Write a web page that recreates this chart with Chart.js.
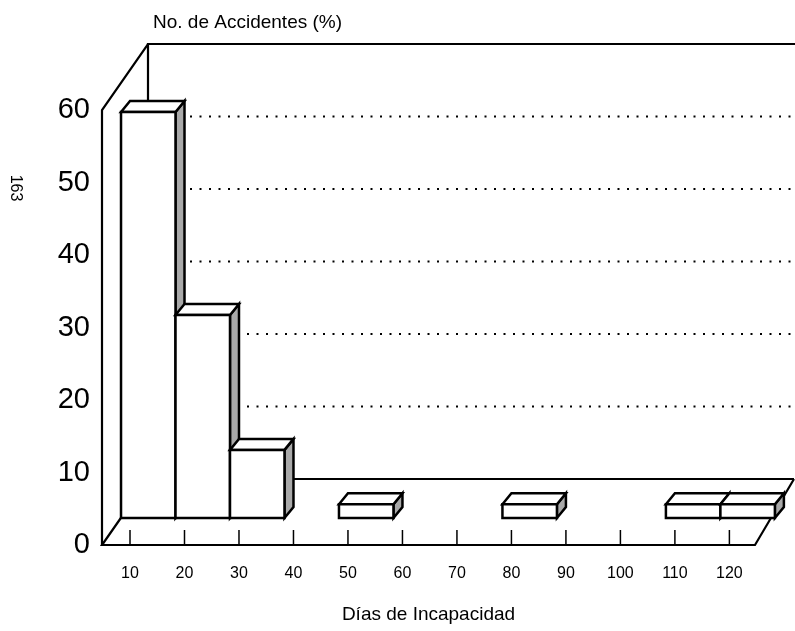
<!DOCTYPE html>
<html>
<head>
<meta charset="utf-8">
<script src="https://cdn.jsdelivr.net/npm/chart.js@4.4.1/dist/chart.umd.min.js"></script>
<style>
  html, body { margin: 0; padding: 0; background: #fff; }
  #wrap { width: 795px; height: 631px; }
</style>
</head>
<body>
<div id="wrap"><canvas id="myChart" width="795" height="631"></canvas></div>
<script>
// bins of days of incapacity (start / end) and % of accidents
const binStart = [10, 20, 30, 40, 50, 60, 70, 80, 90, 100, 110, 120];
const binEnd = [20, 30, 40, 50, 60, 70, 80, 90, 100, 110, 120, 130];
const pct = [56, 28, 9.4, null, 1.9, null, null, 1.9, null, null, 1.9, 1.9];
const xTicks = [10, 20, 30, 40, 50, 60, 70, 80, 90, 100, 110, 120];
const yTicks = [0, 10, 20, 30, 40, 50, 60];
const gridVals = [10, 20, 30, 40, 50];

const fam = "'Liberation Sans', Arial, sans-serif";

const wall = { dx: 46, dy: -66, rdx: 39 };   // depth of the box
const cube = { dx: 9, dy: -11 };              // depth of each bar

function poly(ctx, pts, fill) {
    ctx.beginPath();
    ctx.moveTo(pts[0][0], pts[0][1]);
    for (let i = 1; i < pts.length; i++) ctx.lineTo(pts[i][0], pts[i][1]);
    ctx.closePath();
    ctx.fillStyle = fill;
    ctx.fill();
    ctx.stroke();
}

const box3d = {
    id: 'box3d',
    beforeDatasetsDraw(chart) {
        const { ctx, chartArea: a, scales: { x, yf } } = chart;
        const top = yf.getPixelForValue(60);
        const bl = a.left + wall.dx;
        ctx.save();
        ctx.strokeStyle = '#000';

        // back wall gridlines (dotted)
        ctx.setLineDash([2, 7.5]);
        ctx.lineWidth = 2;
        gridVals.forEach(v => {
            const py = yf.getPixelForValue(v) + wall.dy;
            ctx.beginPath();
            ctx.moveTo(bl + 4, py);
            ctx.lineTo(chart.width, py);
            ctx.stroke();
        });
        ctx.setLineDash([]);

        ctx.lineWidth = 2.2;
        // back wall edges
        ctx.beginPath();
        ctx.moveTo(bl, a.bottom + wall.dy);
        ctx.lineTo(bl, top + wall.dy);
        ctx.lineTo(chart.width, top + wall.dy);
        ctx.stroke();

        // floor back edge
        ctx.beginPath();
        ctx.moveTo(bl, a.bottom + wall.dy);
        ctx.lineTo(a.right + wall.rdx, a.bottom + wall.dy);
        ctx.stroke();

        // left wall
        ctx.beginPath();
        ctx.moveTo(a.left, a.bottom);
        ctx.lineTo(a.left, top);
        ctx.lineTo(bl, top + wall.dy);
        ctx.stroke();

        // floor
        ctx.beginPath();
        ctx.moveTo(bl, a.bottom + wall.dy);
        ctx.lineTo(a.left, a.bottom);
        ctx.lineTo(a.right, a.bottom);
        ctx.lineTo(a.right + wall.rdx, a.bottom + wall.dy);
        ctx.stroke();

        // tick marks on the floor
        ctx.lineWidth = 1.5;
        xTicks.forEach(v => {
            const px = x.getPixelForValue(v);
            ctx.beginPath();
            ctx.moveTo(px, a.bottom - 15);
            ctx.lineTo(px, a.bottom);
            ctx.stroke();
        });
        ctx.restore();
    },
    afterDatasetsDraw(chart) {
        const ctx = chart.ctx;
        const meta = chart.getDatasetMeta(0);
        ctx.save();
        ctx.strokeStyle = '#000';
        ctx.lineWidth = 2.5;
        ctx.lineJoin = 'miter';
        meta.data.forEach((bar, i) => {
            if (pct[i] == null) return;
            const { x, y, base, width } = bar.getProps(['x', 'y', 'base', 'width'], true);
            const l = x - width / 2, r = x + width / 2;
            poly(ctx, [[r, base], [r + cube.dx, base + cube.dy], [r + cube.dx, y + cube.dy], [r, y]], '#a9a9a9');
            poly(ctx, [[l, y], [l + cube.dx, y + cube.dy], [r + cube.dx, y + cube.dy], [r, y]], '#fff');
            poly(ctx, [[l, base], [l, y], [r, y], [r, base]], '#fff');
        });
        ctx.restore();
    },
    afterDraw(chart) {
        const ctx = chart.ctx;
        ctx.save();
        ctx.fillStyle = '#000';
        ctx.font = '19px ' + fam;
        ctx.textAlign = 'left';
        ctx.textBaseline = 'alphabetic';
        ctx.fillText('No. de Accidentes (%)', 153, 28);

        ctx.font = '16px ' + fam;
        ctx.translate(15, 188);
        ctx.rotate(Math.PI / 2);
        ctx.textAlign = 'center';
        ctx.textBaseline = 'middle';
        ctx.fillText('163', 0, 0);
        ctx.restore();
    }
};

const ctx = document.getElementById('myChart').getContext('2d');
const myChart = new Chart(ctx, {
    type: 'bar',
    data: {
        datasets: [{
            label: 'No. de Accidentes (%)',
            data: binStart.map((b, i) => ({ x: (b + binEnd[i]) / 2, y: pct[i] })),
            xAxisID: 'xb',
            yAxisID: 'y',
            backgroundColor: '#fff',
            borderWidth: 0,
            barPercentage: 1,
            categoryPercentage: 1,
            clip: false
        }]
    },
    options: {
        responsive: false,
        animation: false,
        layout: { padding: { top: 42, right: 40, left: 0, bottom: 0 } },
        plugins: {
            legend: { display: false },
            tooltip: { enabled: false }
        },
        scales: {
            x: {
                type: 'linear',
                position: 'bottom',
                min: 4.86,
                max: 124.7,
                offset: false,
                grid: { display: false, drawTicks: false },
                border: { display: false },
                afterBuildTicks: (scale) => { scale.ticks = xTicks.map(v => ({ value: v })); },
                afterFit: (scale) => { scale.height = 86; },
                ticks: {
                    color: '#000',
                    padding: 19,
                    autoSkip: false,
                    maxRotation: 0,
                    font: { family: fam, size: 16 }
                },
                title: {
                    display: true,
                    text: 'Días de Incapacidad',
                    color: '#000',
                    padding: { top: 0, bottom: 5 },
                    font: { family: fam, size: 19 }
                }
            },
            xb: {
                type: 'linear',
                display: false,
                offset: false,
                min: 6.51,
                max: 126.35
            },
            yf: {
                type: 'linear',
                position: 'left',
                min: 0,
                max: 69.38,
                grid: { display: false, drawTicks: false },
                border: { display: false },
                afterBuildTicks: (scale) => { scale.ticks = yTicks.map(v => ({ value: v })); },
                afterFit: (scale) => { scale.width = 102; },
                ticks: {
                    color: '#000',
                    padding: 12,
                    font: { family: fam, size: 29 }
                }
            },
            y: {
                type: 'linear',
                display: false,
                min: -3.72,
                max: 65.66
            }
        }
    },
    plugins: [box3d]
});
</script>
</body>
</html>
